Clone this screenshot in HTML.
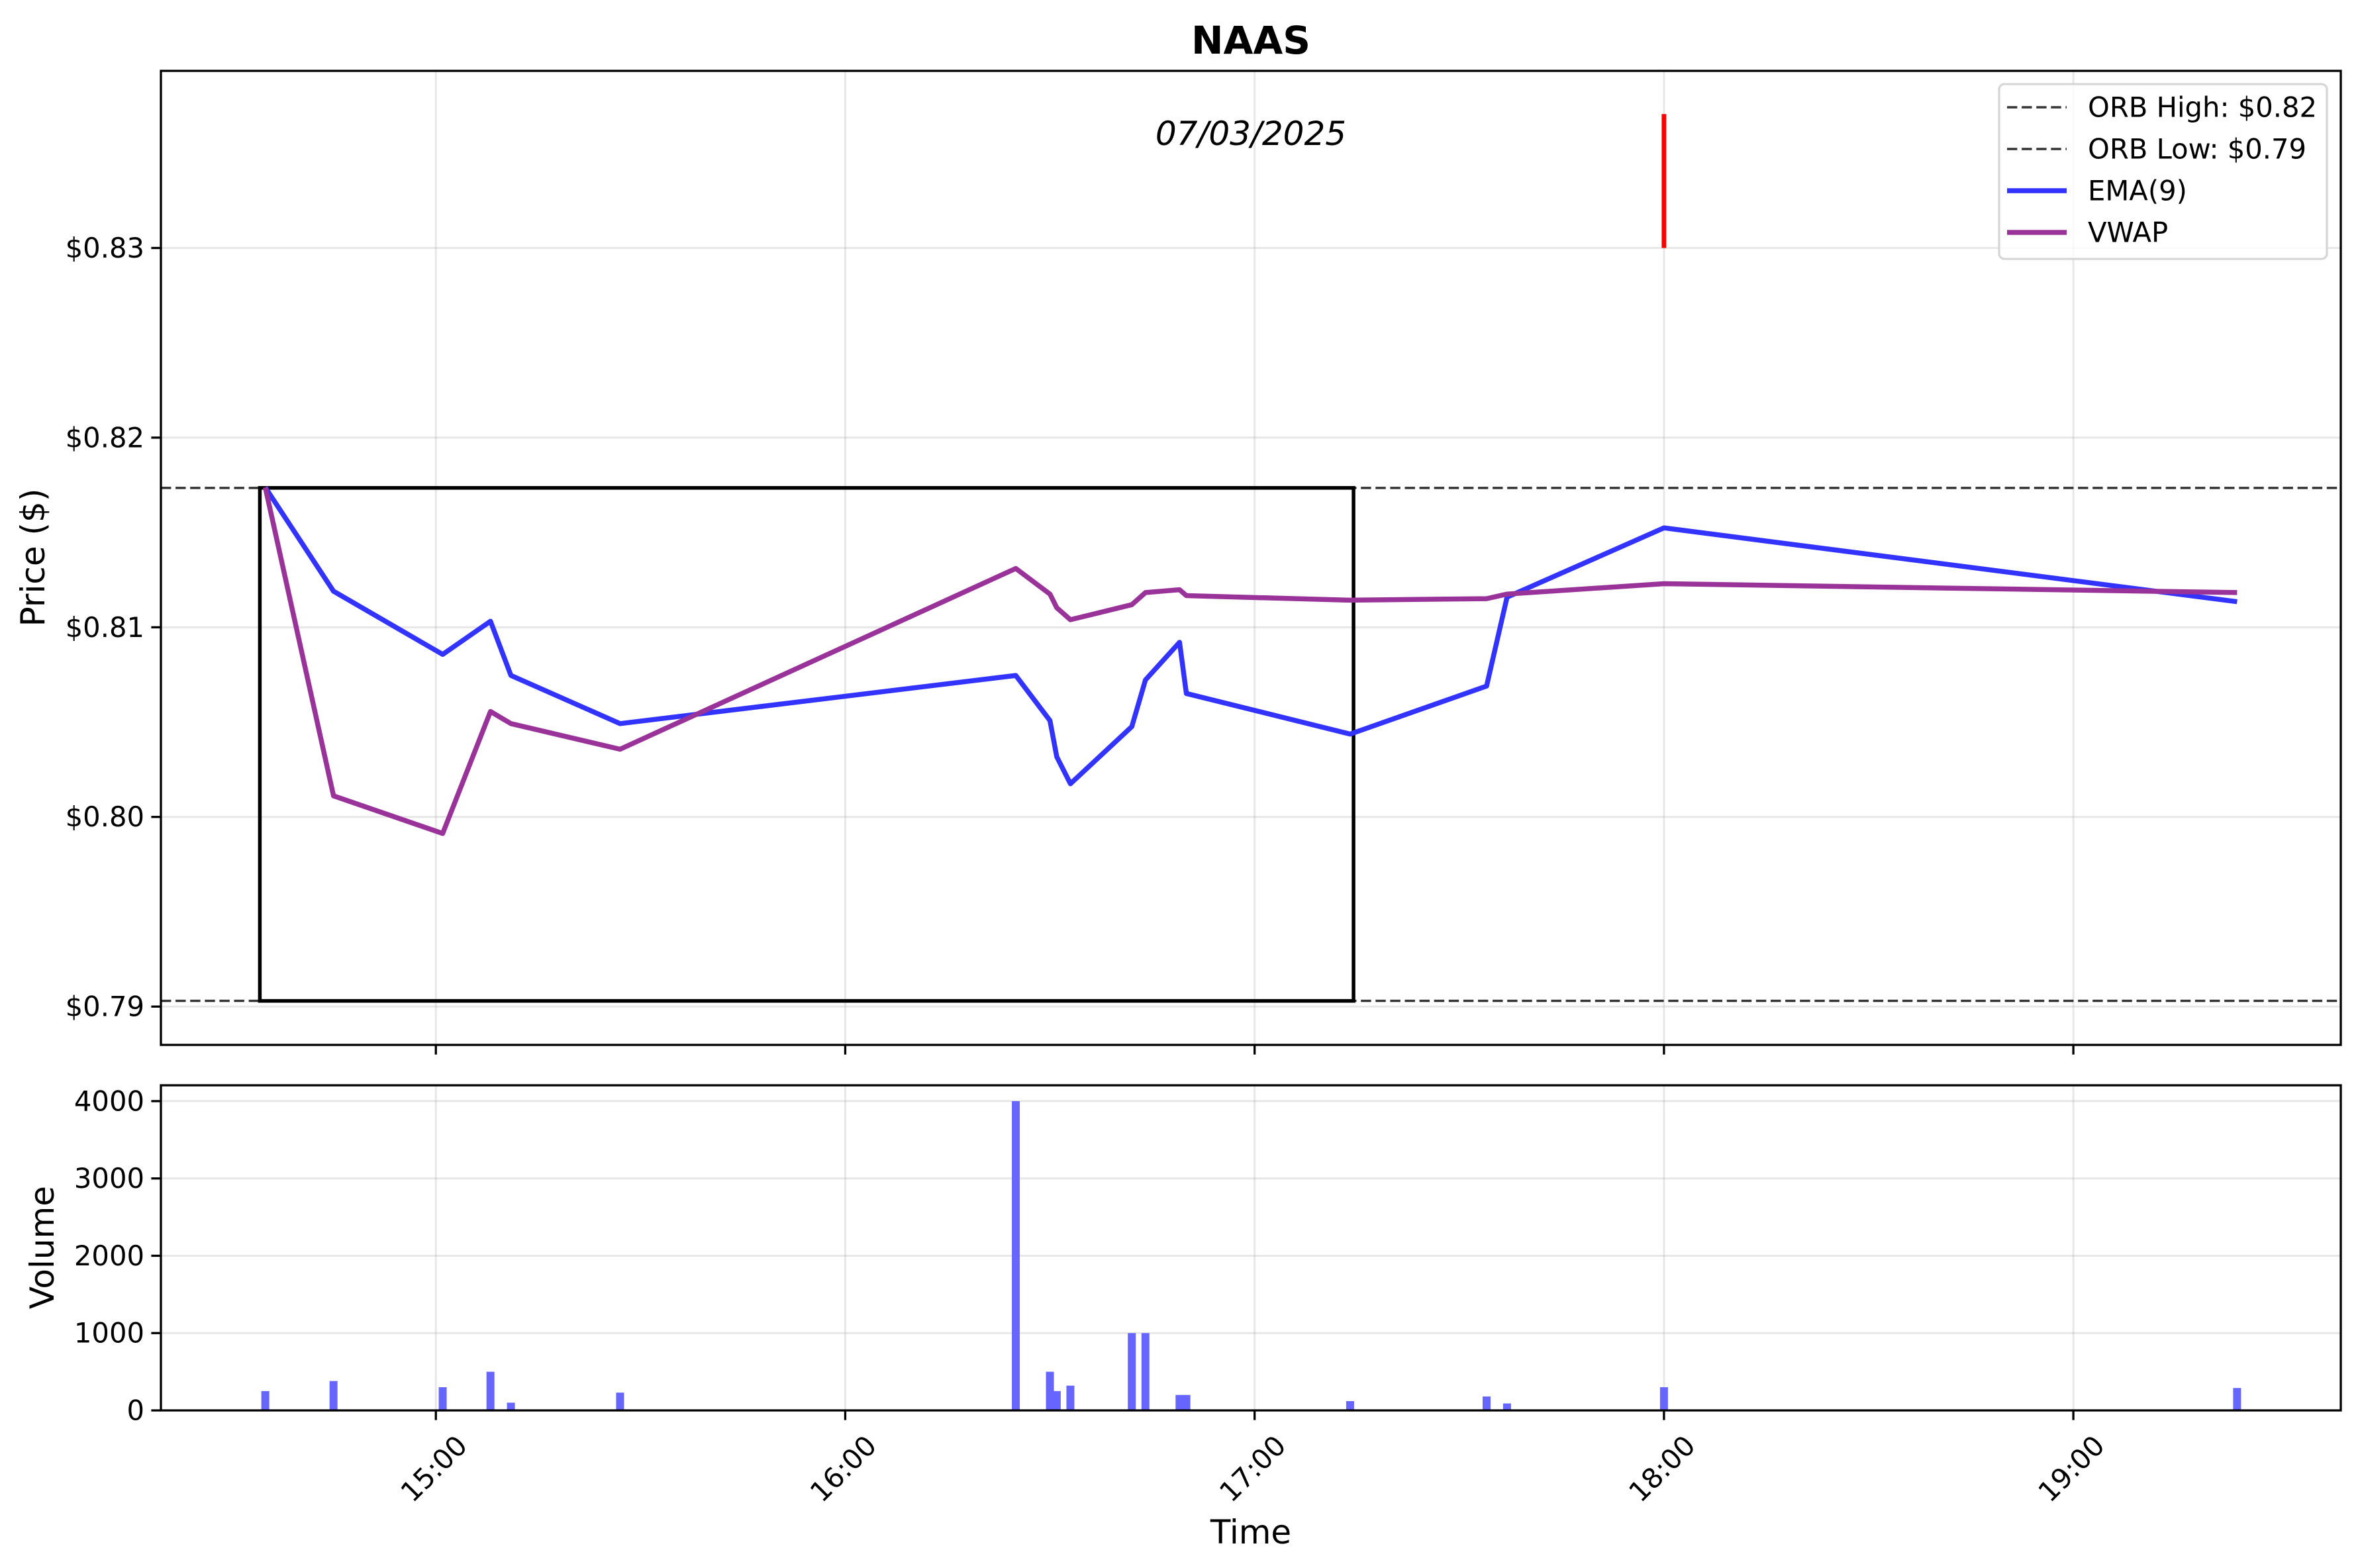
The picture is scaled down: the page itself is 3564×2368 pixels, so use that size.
<!DOCTYPE html>
<html><head><meta charset="utf-8"><style>
html,body{margin:0;padding:0;background:#fff;}
svg{display:block;font-family:"DejaVu Sans","Liberation Sans",sans-serif;}
</style></head><body>
<svg id="chart" width="3564" height="2368" viewBox="0 0 3564 2368" xmlns="http://www.w3.org/2000/svg">
<rect x="0" y="0" width="3564" height="2368" fill="#fff"/>
<text x="1889" y="61" text-anchor="middle" dominant-baseline="central" font-size="58" font-weight="bold">NAAS</text>
<g id="price"></g>
<g id="vol"></g>
</svg>
<script>
// minutes relative to 15:00
const times = [-25, -15, 1, 8, 11, 27, 85, 90, 91, 93, 102, 104, 109, 110, 134, 154, 157, 180, 264];
const emaValues = [0.81738, 0.8119, 0.80857, 0.81032, 0.80746, 0.80492, 0.80746, 0.80508, 0.80317, 0.80175, 0.80476, 0.80722, 0.80921, 0.80651, 0.80437, 0.8069, 0.81159, 0.81524, 0.81135];
const vwapValues = [0.81738, 0.80111, 0.79913, 0.80556, 0.80492, 0.80357, 0.8131, 0.81175, 0.81103, 0.8104, 0.81119, 0.81183, 0.81198, 0.81167, 0.81143, 0.81151, 0.81175, 0.8123, 0.81183];
const volumes = [250, 380, 300, 500, 100, 230, 4000, 500, 250, 320, 1000, 1000, 200, 200, 120, 180, 90, 300, 290];
const priceTicks = [0.79, 0.80, 0.81, 0.82, 0.83];
const priceTickLabels = ["$0.79", "$0.80", "$0.81", "$0.82", "$0.83"];
const volTicks = [0, 1000, 2000, 3000, 4000];
const timeTicks = [0, 60, 120, 180, 240];
const timeTickLabels = ["15:00", "16:00", "17:00", "18:00", "19:00"];
const orbHigh = 0.81735;
const orbLow = 0.7903;
const orbStart = -25.8;
const orbEnd = 134.5;
const markerTime = 180;
const markerLow = 0.8300;
const markerHigh = 0.83706;

const NS = "http://www.w3.org/2000/svg";
const L = 243, R = 3535, PT = 107, PB = 1578, VT = 1639, VB = 2130;
const xMin = -40.3, xMax = 279.2, pMin = 0.78798, pMax = 0.83934, vMax = 4205;
const X = m => L + (m - xMin) / (xMax - xMin) * (R - L);
const YP = p => PB - (p - pMin) / (pMax - pMin) * (PB - PT);
const YV = v => VB - v / vMax * (VB - VT);

function el(parent, tag, attrs, text) {
  const e = document.createElementNS(NS, tag);
  for (const k in attrs) e.setAttribute(k, attrs[k]);
  if (text !== undefined) e.textContent = text;
  parent.appendChild(e);
  return e;
}
const gP = document.getElementById('price');
const gV = document.getElementById('vol');

timeTicks.forEach(t => {
  const a = el(gP, 'line', {x1: X(t), x2: X(t), y1: PT, y2: PB, stroke: '#b0b0b0', 'stroke-opacity': 0.3, 'stroke-width': 3});
  
  
  const b = el(gV, 'line', {x1: X(t), x2: X(t), y1: VT, y2: VB, stroke: '#b0b0b0', 'stroke-opacity': 0.3, 'stroke-width': 3});
  
  
});
priceTicks.forEach((p, i) => {
  const g = el(gP, 'line', {x1: L, x2: R, y1: YP(p), y2: YP(p), stroke: '#b0b0b0', 'stroke-opacity': 0.3, 'stroke-width': 3});
  
  
  const tk = el(gP, 'line', {x1: L - 14.6, x2: L, y1: YP(p), y2: YP(p), stroke: '#000', 'stroke-width': 3.3});
  
  
  const tl = el(gP, 'text', {x: L - 25, y: YP(p), 'text-anchor': 'end', 'dominant-baseline': 'central', 'font-size': 41.7}, priceTickLabels[i]);
  
  
});
volTicks.forEach(v => {
  const g = el(gV, 'line', {x1: L, x2: R, y1: YV(v), y2: YV(v), stroke: '#b0b0b0', 'stroke-opacity': 0.3, 'stroke-width': 3});
  
  
  const tk = el(gV, 'line', {x1: L - 14.6, x2: L, y1: YV(v), y2: YV(v), stroke: '#000', 'stroke-width': 3.3});
  
  
  const tl = el(gV, 'text', {x: L - 25, y: YV(v), 'text-anchor': 'end', 'dominant-baseline': 'central', 'font-size': 41.7}, String(v));
  
  
});

[orbHigh, orbLow].forEach((p, i) => {
  const d = el(gP, 'line', {x1: L, x2: R, y1: YP(p), y2: YP(p), stroke: '#333', 'stroke-width': 3.5, 'stroke-dasharray': '15.4 6.7'});
  
  
});
const box = el(gP, 'rect', {x: X(orbStart), y: YP(orbHigh), width: X(orbEnd) - X(orbStart), height: YP(orbLow) - YP(orbHigh), fill: 'none', stroke: '#000', 'stroke-width': 5.5});



function series(vals, color, name) {
  const pts = times.map((t, i) => X(t).toFixed(1) + ',' + YP(vals[i]).toFixed(1)).join(' ');
  const pl = el(gP, 'polyline', {points: pts, fill: 'none', stroke: color, 'stroke-width': 7.5, 'stroke-linejoin': 'round'});
  
  
}
series(emaValues, '#3333ff', 'ema-9-line');
series(vwapValues, '#993399', 'vwap-line');

const rm = el(gP, 'line', {x1: X(markerTime), x2: X(markerTime), y1: YP(markerLow), y2: YP(markerHigh), stroke: '#ff0000', 'stroke-width': 7});



const dt = el(gP, 'text', {x: 1889, y: 202, 'text-anchor': 'middle', 'dominant-baseline': 'central', 'font-size': 50, 'font-style': 'italic'}, '07/03/2025');



const bw = 12;
times.forEach((t, i) => {
  const b = el(gV, 'rect', {x: X(t) - bw / 2, y: YV(volumes[i]), width: bw, height: VB - YV(volumes[i]), fill: '#6666ff'});
  
  
});

timeTicks.forEach((t, i) => {
  const a = el(gP, 'line', {x1: X(t), x2: X(t), y1: PB, y2: PB + 14.6, stroke: '#000', 'stroke-width': 3.3});
  
  
  const b = el(gV, 'line', {x1: X(t), x2: X(t), y1: VB, y2: VB + 14.6, stroke: '#000', 'stroke-width': 3.3});
  
  
  const cx = X(t) - 3, cy = 2218;
  const tl = el(gV, 'text', {x: cx, y: cy, 'text-anchor': 'middle', 'dominant-baseline': 'central', 'font-size': 41.7, transform: 'rotate(-45 ' + cx + ' ' + cy + ')'}, timeTickLabels[i]);
  
  
});

const f1 = el(gP, 'rect', {x: L, y: PT, width: R - L, height: PB - PT, fill: 'none', stroke: '#000', 'stroke-width': 3.3});


const f2 = el(gV, 'rect', {x: L, y: VT, width: R - L, height: VB - VT, fill: 'none', stroke: '#000', 'stroke-width': 3.3});



const yl = el(gP, 'text', {x: 50, y: 842, 'text-anchor': 'middle', 'dominant-baseline': 'central', 'font-size': 50, transform: 'rotate(-90 50 842)'}, 'Price ($)');


const vl = el(gV, 'text', {x: 64, y: 1884, 'text-anchor': 'middle', 'dominant-baseline': 'central', 'font-size': 50, transform: 'rotate(-90 64 1884)'}, 'Volume');


const xl = el(gV, 'text', {x: 1889, y: 2314, 'text-anchor': 'middle', 'dominant-baseline': 'central', 'font-size': 50}, 'Time');



const lg = el(gP, 'g', {});


el(lg, 'rect', {x: 3019, y: 127, width: 495, height: 264, rx: 8, fill: '#fff', 'fill-opacity': 0.8, stroke: '#d6d6d6', 'stroke-width': 3.3});
const legendLabels = ['ORB High: $0.82', 'ORB Low: $0.79', 'EMA(9)', 'VWAP'];
const legendColors = ['#333', '#333', '#3333ff', '#993399'];
const legendRows = [162, 225, 288, 351];
legendLabels.forEach((lab, i) => {
  const dash = i < 2;
  const h = el(lg, 'line', {x1: 3031, x2: 3121, y1: legendRows[i], y2: legendRows[i], stroke: legendColors[i], 'stroke-width': dash ? 3.5 : 7.5, 'stroke-dasharray': dash ? '15.4 6.7' : 'none'});
  
  
  const tx = el(lg, 'text', {x: 3153, y: legendRows[i], 'dominant-baseline': 'central', 'font-size': 41.7}, lab);
  
  
});
</script>
</body></html>
